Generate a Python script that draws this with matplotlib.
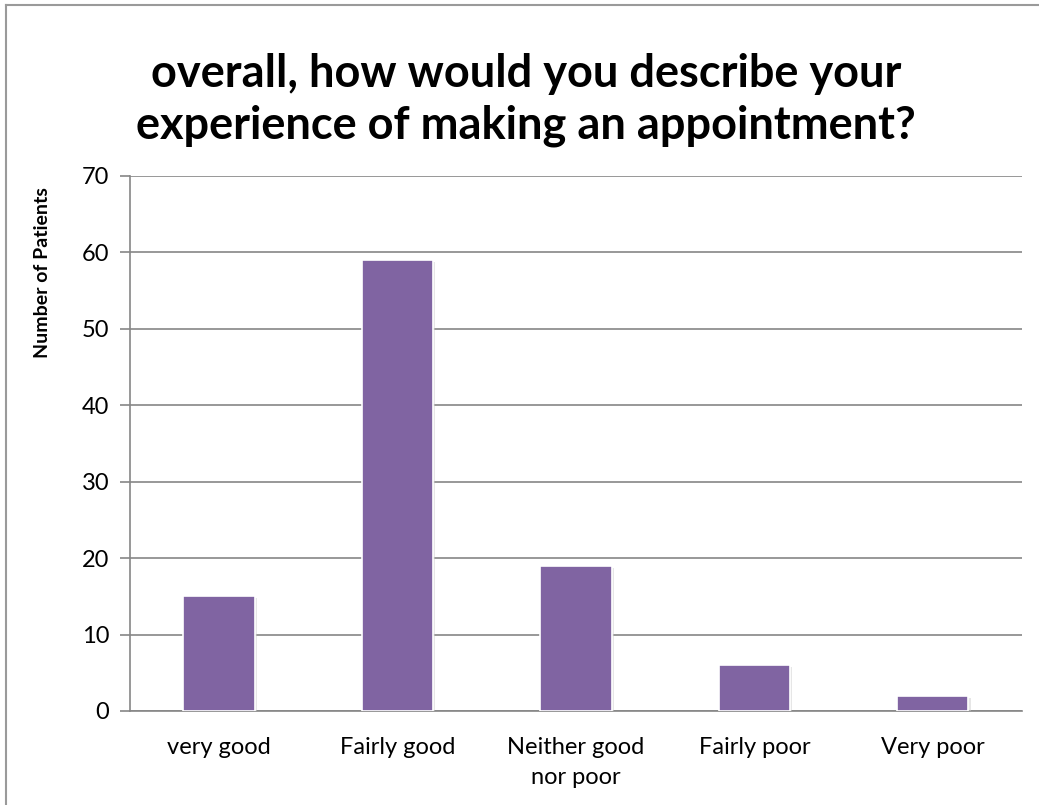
import matplotlib
matplotlib.use("Agg")
from matplotlib import pyplot as plt
from matplotlib.lines import Line2D
import matplotlib.patheffects as pe

# Survey responses
categories = ['very good', 'Fairly good', 'Neither good\nnor poor', 'Fairly poor', 'Very poor']
patients = [15, 59, 19, 6, 2]
y_ticks = [0, 10, 20, 30, 40, 50, 60, 70]

plt.rcParams['font.family'] = ['Lato', 'DejaVu Sans']

fig = plt.figure(figsize=(10.39, 8.05), dpi=100)
ax = fig.add_axes([0.1251, 0.1168, 0.8585, 0.6646])

grid_color = '#868686'
x = range(len(categories))
bars = ax.bar(x, patients, width=0.4, color='#8064A2', edgecolor='white',
              linewidth=1.2, zorder=3)
for b in bars:
    b.set_path_effects([pe.SimplePatchShadow(offset=(1.5, -1.5), shadow_rgbFace='#cfcfcf', alpha=0.5),
                        pe.Normal()])

ax.set_xlim(-0.5, len(categories) - 0.5)
ax.set_ylim(0, 70)
ax.set_yticks(y_ticks)
ax.set_xticks(list(x))
ax.set_xticklabels(categories, fontsize=17, linespacing=1.5)
ax.tick_params(axis='y', labelsize=17, length=7, color=grid_color, width=1.2, pad=8)
ax.tick_params(axis='x', length=0, pad=19)

ax.yaxis.grid(True, color=grid_color, linewidth=1.2, zorder=0)
ax.set_axisbelow(True)
for side in ['top', 'right']:
    ax.spines[side].set_visible(False)
for side in ['left', 'bottom']:
    ax.spines[side].set_color(grid_color)
    ax.spines[side].set_linewidth(1.2)

ax.set_ylabel('Number of Patients', fontsize=14, fontweight='bold')
ax.yaxis.set_label_coords(-0.088, 0.82)

fig.text(0.506, 1 - 100 / 805, 'overall, how would you describe your\nexperience of making an appointment?',
         ha='center', va='center', fontsize=32.5, fontweight='bold', linespacing=1.3)

# chart frame on the left and top edges
fig.add_artist(Line2D([6 / 1039, 6 / 1039], [0, 1 - 5 / 805], color='#9a9a9a', linewidth=1.5,
                      transform=fig.transFigure))
fig.add_artist(Line2D([6 / 1039, 1], [1 - 5 / 805, 1 - 5 / 805], color='#9a9a9a', linewidth=1.5,
                      transform=fig.transFigure))

fig.savefig('out.png', dpi=100)
